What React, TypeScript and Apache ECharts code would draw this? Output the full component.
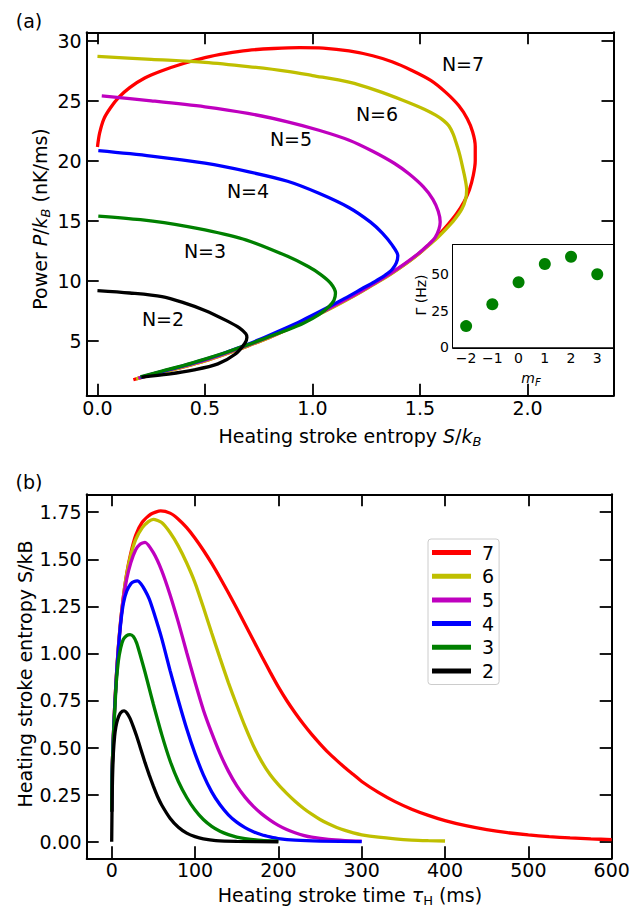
import React, { useEffect, useRef } from "react";
import * as echarts from "echarts";

const FONT = "'DejaVu Sans', 'Noto Sans', sans-serif";

// ---------- Panel (a): power P/kB (nK/ms) vs heating stroke entropy S/kB, pairs [S, P]
const curveA7: number[][] = [[0,21.15],[0.01,22.3],[0.03,23.5],[0.06,24.4],[0.1,25.3],[0.15,26.1],[0.22,26.9],[0.3,27.5],[0.4,28.1],[0.5,28.6],[0.6,28.95],[0.7,29.2],[0.82,29.35],[0.94,29.42],[1.05,29.38],[1.17,29.15],[1.28,28.75],[1.37,28.25],[1.46,27.55],[1.55,26.7],[1.62,25.7],[1.68,24.6],[1.72,23.5],[1.745,22.4],[1.757,21.2],[1.757,20.0],[1.748,18.8],[1.73,17.6],[1.705,16.6],[1.67,15.6],[1.63,14.7],[1.585,13.8],[1.54,13.0],[1.49,12.2],[1.43,11.4],[1.36,10.55],[1.28,9.7],[1.2,8.85],[1.1,7.9],[1.0,7.0],[0.9,6.1],[0.8,5.3],[0.7,4.6],[0.6,3.95],[0.5,3.35],[0.4,2.85],[0.3,2.4],[0.23,2.1],[0.167,1.78]];
const curveA6: number[][] = [[0,28.7],[0.25,28.45],[0.5,28.2],[0.7,27.85],[0.884,27.45],[1.0,27.1],[1.17,26.55],[1.3,25.85],[1.42,25.05],[1.52,24.3],[1.573,23.8],[1.61,23.35],[1.635,22.9],[1.655,22.2],[1.67,21.4],[1.685,20.5],[1.698,19.5],[1.71,18.5],[1.717,17.6],[1.712,16.8],[1.695,16.0],[1.66,15.1],[1.62,14.3],[1.575,13.5],[1.53,12.8],[1.48,12.05],[1.42,11.25],[1.35,10.4],[1.27,9.55],[1.19,8.72],[1.1,7.85],[1.0,6.95],[0.9,6.1],[0.8,5.3],[0.7,4.6],[0.6,3.95],[0.5,3.35],[0.4,2.85],[0.3,2.4],[0.18,1.85]];
const curveA5: number[][] = [[0.02,25.4],[0.25,25.0],[0.5,24.5],[0.7,23.95],[0.884,23.25],[1.03,22.55],[1.171,21.72],[1.28,20.8],[1.382,19.78],[1.45,18.9],[1.516,17.83],[1.56,16.8],[1.585,15.8],[1.594,14.9],[1.588,14.3],[1.57,13.6],[1.535,12.95],[1.49,12.25],[1.43,11.45],[1.36,10.6],[1.28,9.72],[1.2,8.88],[1.1,7.93],[1.0,7.0],[0.9,6.15],[0.8,5.35],[0.7,4.65],[0.6,4.0],[0.5,3.4],[0.4,2.9],[0.3,2.45],[0.19,1.9]];
const curveA4: number[][] = [[0.004,20.85],[0.25,20.4],[0.5,19.8],[0.7,19.1],[0.884,18.3],[1.03,17.3],[1.171,16.1],[1.27,14.9],[1.324,14.0],[1.37,13.0],[1.397,12.1],[1.39,11.5],[1.37,10.95],[1.335,10.45],[1.29,9.95],[1.23,9.35],[1.15,8.55],[1.05,7.6],[0.95,6.7],[0.85,5.88],[0.75,5.1],[0.65,4.4],[0.55,3.75],[0.45,3.2],[0.35,2.7],[0.2,1.98]];
const curveA3: number[][] = [[0.004,15.4],[0.2,15.1],[0.31,14.85],[0.5,14.25],[0.693,13.4],[0.884,12.05],[0.98,11.2],[1.037,10.55],[1.085,9.8],[1.107,9.0],[1.1,8.4],[1.076,7.85],[1.03,7.2],[0.96,6.5],[0.88,5.9],[0.789,5.3],[0.7,4.7],[0.597,4.05],[0.5,3.5],[0.406,3.0],[0.3,2.5],[0.2,2.02]];
const curveA2: number[][] = [[0,9.2],[0.15,9.0],[0.3,8.7],[0.4,8.2],[0.5,7.55],[0.6,6.7],[0.66,6.1],[0.69,5.6],[0.695,5.3],[0.685,4.8],[0.64,3.9],[0.56,3.1],[0.45,2.6],[0.33,2.25],[0.205,2.0]];

// ---------- Inset: decay rate vs m_F
const insetMF = [-2, -1, 0, 1, 2, 3];
const insetGamma = [14.5, 29.5, 44.5, 57, 62, 50];

// ---------- Panel (b): entropy S/kB vs heating stroke time (ms), pairs [tau, S]
const curveB7: number[][] = [[0,0.16],[0.4,0.36],[2,0.56],[3.6,0.72],[5.6,0.88],[8,1.035],[10.8,1.176],[14,1.3],[18,1.424],[22.8,1.53],[28.8,1.627],[36.8,1.698],[46.8,1.739],[58.8,1.757],[70,1.745],[80,1.713],[90,1.668],[100,1.612],[110,1.548],[120,1.478],[130,1.402],[140,1.322],[150,1.24],[160,1.155],[170,1.07],[180,0.985],[190,0.902],[200,0.822],[210,0.75],[220,0.685],[230,0.625],[240,0.57],[250,0.52],[260,0.473],[270,0.432],[280,0.393],[290,0.357],[300,0.32],[320,0.262],[340,0.213],[360,0.173],[380,0.14],[400,0.112],[425,0.085],[450,0.064],[475,0.048],[500,0.036],[525,0.027],[550,0.02],[575,0.015],[600,0.011]];
const curveB6: number[][] = [[0,0.16],[0.4,0.36],[2,0.56],[3.6,0.72],[5.6,0.88],[8,1.035],[10.8,1.176],[14,1.3],[18,1.42],[22.8,1.52],[28.8,1.605],[36.8,1.668],[44,1.7],[50,1.712],[60,1.695],[70,1.642],[80,1.57],[90,1.48],[100,1.375],[110,1.245],[120,1.108],[130,0.975],[140,0.845],[150,0.726],[160,0.612],[170,0.51],[180,0.425],[190,0.357],[200,0.303],[210,0.257],[220,0.215],[230,0.178],[240,0.146],[250,0.118],[260,0.095],[270,0.076],[280,0.06],[290,0.047],[300,0.037],[320,0.024],[340,0.015],[360,0.009],[380,0.006],[400,0.004]];
const curveB5: number[][] = [[0,0.16],[0.4,0.36],[2,0.56],[3.6,0.72],[5.6,0.88],[8,1.03],[10.8,1.17],[14,1.29],[18,1.395],[22.8,1.48],[28.8,1.55],[34,1.58],[40,1.59],[50,1.535],[60,1.44],[70,1.312],[80,1.165],[90,1.005],[100,0.848],[110,0.7],[120,0.578],[130,0.468],[140,0.375],[150,0.298],[160,0.237],[170,0.188],[180,0.148],[190,0.115],[200,0.087],[210,0.065],[220,0.048],[230,0.034],[240,0.024],[260,0.012],[280,0.006],[300,0.003]];
const curveB4: number[][] = [[0,0.16],[0.4,0.36],[2,0.56],[3.6,0.71],[5.6,0.87],[8,1.02],[10.8,1.16],[14,1.265],[18,1.33],[23,1.37],[27,1.382],[30.8,1.385],[35,1.37],[40,1.335],[45,1.29],[50,1.225],[60,1.08],[70,0.91],[80,0.75],[90,0.6],[100,0.468],[110,0.355],[120,0.265],[130,0.196],[140,0.143],[150,0.104],[160,0.075],[170,0.053],[180,0.037],[190,0.026],[200,0.017],[220,0.008],[250,0.003],[300,0.001]];
const curveB3: number[][] = [[0,0.16],[0.4,0.36],[2,0.55],[3.6,0.69],[5.6,0.85],[8,0.96],[10.8,1.03],[14,1.075],[18,1.095],[22,1.1],[26,1.09],[30,1.055],[35,0.98],[40,0.9],[45,0.815],[50,0.73],[60,0.57],[70,0.43],[80,0.32],[90,0.235],[100,0.168],[110,0.118],[120,0.082],[130,0.056],[140,0.038],[150,0.025],[160,0.017],[180,0.007],[200,0.003]];
const curveB2: number[][] = [[0,0],[0.5,0.22],[1,0.34],[2,0.47],[3.5,0.56],[5,0.61],[7,0.648],[10,0.68],[13,0.693],[15,0.695],[18,0.685],[22,0.655],[26,0.61],[30,0.56],[35,0.49],[40,0.42],[45,0.355],[50,0.295],[55,0.24],[60,0.195],[70,0.125],[80,0.077],[90,0.046],[100,0.027],[110,0.015],[125,0.006],[150,0.002],[200,0]];

const curveNames = ["7", "6", "5", "4", "3", "2"];
const curveColors = ["#ff0000", "#bfbf00", "#bf00bf", "#0000ff", "#008000", "#000000"];
const panelACurves = [curveA7, curveA6, curveA5, curveA4, curveA3, curveA2];
const panelBCurves = [curveB7, curveB6, curveB5, curveB4, curveB3, curveB2];

// tick values
const ticksAX = [0, 0.5, 1.0, 1.5, 2.0];
const ticksAY = [5, 10, 15, 20, 25, 30];
const ticksInsetX = [-2, -1, 0, 1, 2, 3];
const ticksInsetY = [0, 25, 50];
const ticksBX = [0, 100, 200, 300, 400, 500, 600];
const ticksBY = [0, 0.25, 0.5, 0.75, 1.0, 1.25, 1.5, 1.75];

// curve labels in panel (a)
const curveLabelText = ["N=7", "N=6", "N=5", "N=4", "N=3", "N=2"];
const curveLabelPos = [[463, 64], [377, 114], [291, 139], [248, 191], [205, 251], [163, 319]];

const minus = (v: number) => (v < 0 ? "\u2212" + Math.abs(v) : String(v));

function axisPair(
  gridIndex: number,
  kind: "x" | "y",
  min: number,
  max: number,
  ticks: number[],
  fmt: (v: number) => string,
  tickLen: number,
  fontSize: number,
  margin: number,
  lineW: number
) {
  const base = {
    type: "value",
    gridIndex,
    min,
    max,
    axisLine: { show: true, onZero: false, lineStyle: { color: "#000", width: lineW } },
    splitLine: { show: false },
    axisTick: {
      show: true,
      inside: true,
      length: tickLen,
      lineStyle: { color: "#000", width: 1.8 },
      customValues: ticks,
    },
  };
  const main = {
    ...base,
    position: kind === "x" ? "bottom" : "left",
    axisLabel: {
      show: true,
      customValues: ticks,
      formatter: (v: number) => fmt(v),
      color: "#000",
      fontFamily: FONT,
      fontSize,
      margin,
    },
  };
  const second = {
    ...base,
    position: kind === "x" ? "top" : "right",
    axisLabel: { show: false },
  };
  return [main, second];
}

function rich(fs: number, sub: number) {
  return {
    r: { fontSize: fs, fontFamily: FONT, fill: "#000", lineHeight: fs + 5 },
    i: { fontSize: fs, fontFamily: FONT, fontStyle: "italic", fill: "#000", lineHeight: fs + 5 },
    s: { fontSize: sub, fontFamily: FONT, fill: "#000", lineHeight: sub, verticalAlign: "bottom" },
    si: { fontSize: sub, fontFamily: FONT, fontStyle: "italic", fill: "#000", lineHeight: sub, verticalAlign: "bottom" },
  };
}

function textEl(x: number, y: number, text: string, fs: number, sub: number, rotate = 0) {
  return {
    type: "text",
    x,
    y,
    rotation: rotate,
    z: 100,
    style: {
      text,
      rich: rich(fs, sub),
      fontSize: fs,
      fontFamily: FONT,
      fill: "#000",
      align: "center",
      verticalAlign: "middle",
      textAlign: "center",
      textVerticalAlign: "middle",
    },
  };
}

export default function App() {
  const ref = useRef<HTMLDivElement>(null);
  useEffect(() => {
    if (!ref.current) return;
    const chart = echarts.init(ref.current, undefined, { renderer: "svg" });

    const [ax0, ax1] = axisPair(0, "x", -0.05, 2.4, ticksAX, (v) => v.toFixed(1), 12, 19, 3, 2);
    const [ay0, ay1] = axisPair(0, "y", 0.45, 30.7, ticksAY, (v) => String(v), 12, 19, 5, 2);
    const [ix0, ix1] = axisPair(1, "x", -2.5, 3.6, ticksInsetX, minus, 8, 14, 4, 2);
    const [iy0, iy1] = axisPair(1, "y", 0, 70, ticksInsetY, (v) => String(v), 8, 14, 4, 2);
    const [bx0, bx1] = axisPair(2, "x", -30, 600, ticksBX, (v) => String(v), 12, 19, 2, 2);
    const [by0, by1] = axisPair(2, "y", -0.088, 1.845, ticksBY, (v) => v.toFixed(2), 12, 19, 5, 2);

    const series: any[] = [];
    panelACurves.forEach((d, k) => {
      series.push({
        type: "line",
        name: "a" + curveNames[k],
        xAxisIndex: 0,
        yAxisIndex: 0,
        data: d,
        showSymbol: false,
        smooth: 0.3,
        color: curveColors[k],
        lineStyle: { width: 3.3, color: curveColors[k] },
        z: 3,
      });
    });
    series.push({
      type: "scatter",
      name: "inset",
      xAxisIndex: 2,
      yAxisIndex: 2,
      data: insetMF.map((m, k) => [m, insetGamma[k]]),
      symbolSize: 12,
      itemStyle: { color: "#008000", opacity: 1 },
      z: 5,
    });
    panelBCurves.forEach((d, k) => {
      series.push({
        type: "line",
        name: curveNames[k],
        xAxisIndex: 4,
        yAxisIndex: 4,
        data: d,
        showSymbol: false,
        smooth: 0.2,
        color: curveColors[k],
        lineStyle: { width: 3.3, color: curveColors[k] },
        z: 3,
      });
    });

    const graphics: any[] = [
      textEl(29, 21, "{r|(a)}", 19, 13),
      textEl(29, 482, "{r|(b)}", 19, 13),
      textEl(40, 219, "{r|Power }{i|P}{r|/}{i|k}{si|B}{r| (nK/ms)}", 19, 13, Math.PI / 2),
      textEl(350, 436, "{r|Heating stroke entropy }{i|S}{r|/}{i|k}{si|B}", 19, 13),
      textEl(25, 674, "{r|Heating stroke entropy S/kB}", 19, 13, Math.PI / 2),
      textEl(350, 895, "{r|Heating stroke time }{i|τ}{s|H}{r| (ms)}", 19, 13),
      textEl(421, 295, "{r|Γ (Hz)}", 14, 10, Math.PI / 2),
      textEl(531, 378, "{i|m}{si|F}", 14, 10),
    ];
    curveLabelText.forEach((t, k) => {
      graphics.push(textEl(curveLabelPos[k][0], curveLabelPos[k][1], "{r|" + t + "}", 19, 13));
    });

    chart.setOption({
      animation: false,
      backgroundColor: "#fff",
      textStyle: { fontFamily: FONT },
      grid: [
        { left: 86.7, top: 32.3, width: 526.8, height: 363.4 },
        { left: 453, top: 245, width: 160, height: 102.3, show: true, borderWidth: 0, backgroundColor: "#fff", z: 4 },
        { left: 86.7, top: 494.3, width: 525, height: 364 },
      ],
      xAxis: [ax0, ax1, ix0, ix1, bx0, bx1],
      yAxis: [ay0, ay1, iy0, iy1, by0, by1],
      legend: {
        show: true,
        data: curveNames,
        orient: "vertical",
        left: 428,
        top: 539,
        padding: [4, 5, 4, 4],
        itemWidth: 39,
        itemHeight: 5,
        itemGap: 4.7,
        icon: "rect",
        selectedMode: false,
        borderColor: "#cccccc",
        borderWidth: 1,
        borderRadius: 3,
        backgroundColor: "rgba(255,255,255,0.8)",
        textStyle: { fontSize: 19, fontFamily: FONT, color: "#000", lineHeight: 19, padding: [0, 0, 0, 6] },
      },
      graphic: graphics,
      series,
    });
    return () => chart.dispose();
  }, []);
  return (
    <div
      ref={ref}
      style={{ position: "fixed", left: 0, top: 0, width: 644, height: 907, background: "#fff" }}
    />
  );
}
